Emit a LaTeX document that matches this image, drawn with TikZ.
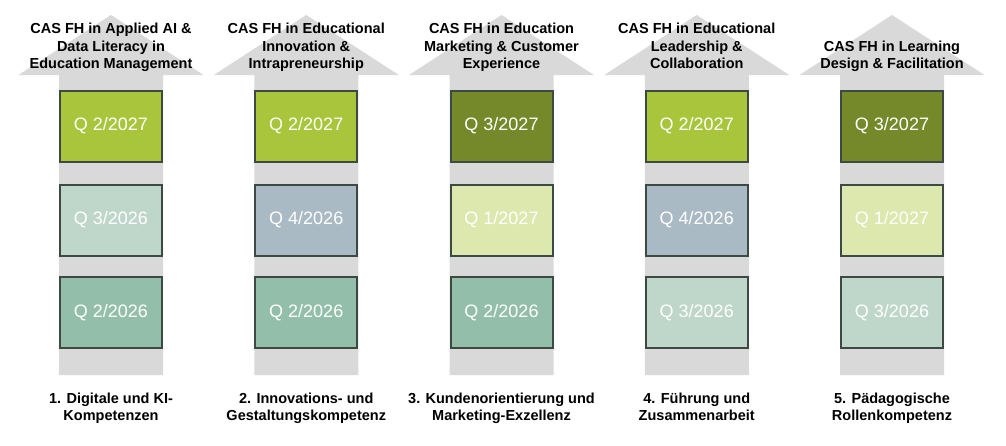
\documentclass[tikz,border=0pt]{standalone}
\usepackage{fontspec}
\setmainfont{Liberation Sans}
\definecolor{arrowgrey}{HTML}{D9D9D9}
\definecolor{boxedge}{HTML}{3D4A44}
\definecolor{lime}{HTML}{A8C53B}
\definecolor{olive}{HTML}{76892A}
\definecolor{palegreen}{HTML}{DCE8AE}
\definecolor{lightsage}{HTML}{BFD6CB}
\definecolor{midsage}{HTML}{93BFAA}
\definecolor{greyblue}{HTML}{A9BAC5}
\tikzset{
  qbox/.style={draw=boxedge, line width=2pt, minimum width=102pt, minimum height=71pt,
    inner sep=0pt, text=white, font=\fontsize{18}{20}\selectfont},
  titletext/.style={anchor=south, align=center, inner sep=0pt,
    font=\fontsize{14.5}{17.5}\selectfont\bfseries},
  bottomtext/.style={anchor=north, align=center, inner sep=0pt,
    font=\fontsize{14.5}{17.5}\selectfont\bfseries},
  bigarrow/.style={fill=arrowgrey, draw=none}
}
\begin{document}
\begin{tikzpicture}[x=1pt, y=-1pt]
\useasboundingbox (0,0) rectangle (1006,445);
\foreach \i/\cx in {1/111, 2/306.25, 3/501.5, 4/696.75, 5/892} {
  \fill[bigarrow] (\cx,15) -- (\cx+92.5,75) -- (\cx+52,75) -- (\cx+52,375)
     -- (\cx-52,375) -- (\cx-52,75) -- (\cx-92.5,75) -- cycle;
  \coordinate (c\i) at (\cx,0);
}
% titles
\node[titletext] (t1) at (111,74) {CAS FH in Applied AI \&\\Data Literacy in\\Education Management\strut};
\node[titletext] (t2) at (306.25,74) {CAS FH in Educational\\Innovation \&\\Intrapreneurship\strut};
\node[titletext] (t3) at (501.5,74) {CAS FH in Education\\Marketing \& Customer\\Experience\strut};
\node[titletext] (t4) at (696.75,74) {CAS FH in Educational\\Leadership \&\\Collaboration\strut};
\node[titletext] (t5) at (892,74) {CAS FH in Learning\\Design \& Facilitation\strut};
% boxes column 1
\node[qbox, fill=lime] (b11) at (111,126) {Q 2/2027};
\node[qbox, fill=lightsage] (b12) at (111,220) {Q 3/2026};
\node[qbox, fill=midsage] (b13) at (111,312.5) {Q 2/2026};
% column 2
\node[qbox, fill=lime] (b21) at (306.25,126) {Q 2/2027};
\node[qbox, fill=greyblue] (b22) at (306.25,220) {Q 4/2026};
\node[qbox, fill=midsage] (b23) at (306.25,312.5) {Q 2/2026};
% column 3
\node[qbox, fill=olive] (b31) at (501.5,126) {Q 3/2027};
\node[qbox, fill=palegreen] (b32) at (501.5,220) {Q 1/2027};
\node[qbox, fill=midsage] (b33) at (501.5,312.5) {Q 2/2026};
% column 4
\node[qbox, fill=lime] (b41) at (696.75,126) {Q 2/2027};
\node[qbox, fill=greyblue] (b42) at (696.75,220) {Q 4/2026};
\node[qbox, fill=lightsage] (b43) at (696.75,312.5) {Q 3/2026};
% column 5
\node[qbox, fill=olive] (b51) at (892,126) {Q 3/2027};
\node[qbox, fill=palegreen] (b52) at (892,220) {Q 1/2027};
\node[qbox, fill=lightsage] (b53) at (892,312.5) {Q 3/2026};
% bottom labels
\node[bottomtext] (l1) at (111,391) {\strut 1. Digitale und KI-\\Kompetenzen};
\node[bottomtext] (l2) at (306.25,391) {\strut 2. Innovations- und\\Gestaltungskompetenz};
\node[bottomtext] (l3) at (501.5,391) {\strut 3. Kundenorientierung und\\Marketing-Exzellenz};
\node[bottomtext] (l4) at (696.75,391) {\strut 4. Führung und\\Zusammenarbeit};
\node[bottomtext] (l5) at (892,391) {\strut 5. Pädagogische\\Rollenkompetenz};
\end{tikzpicture}
\end{document}
